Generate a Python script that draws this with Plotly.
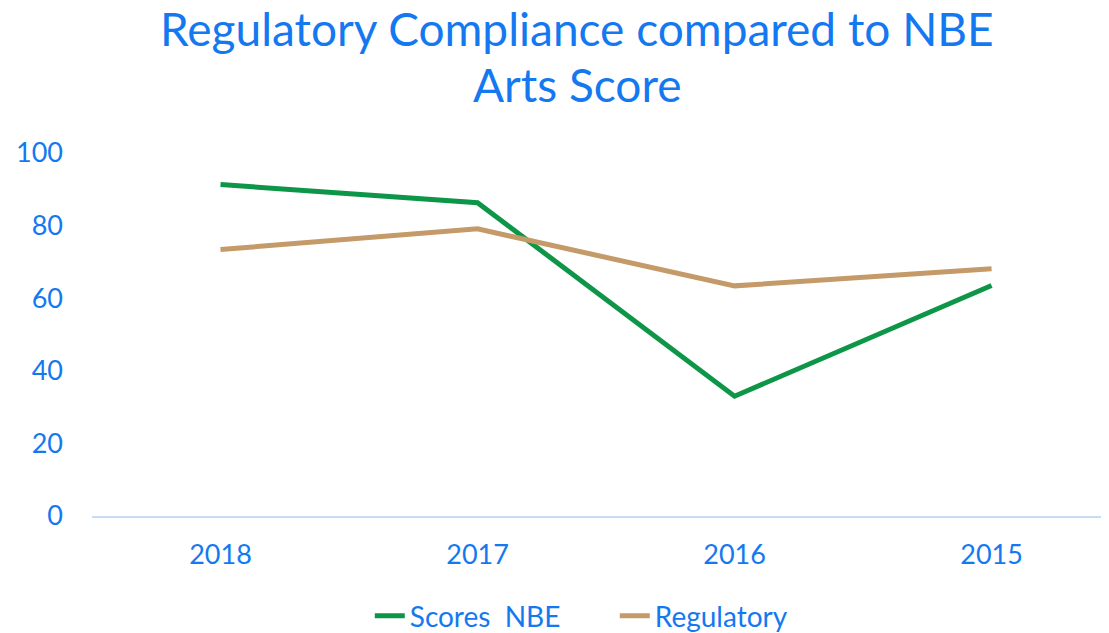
import plotly.graph_objects as go

years = ["2018", "2017", "2016", "2015"]
scores_nbe = [91.3, 86.3, 33.0, 63.5]
regulatory = [73.4, 79.1, 63.4, 68.1]
y_ticks = [0, 20, 40, 60, 80, 100]

blue = "#1479F0"
font_family = "Lato, 'Open Sans', sans-serif"

fig = go.Figure()
fig.add_trace(go.Scatter(x=years, y=scores_nbe, mode="lines", name="Scores  NBE",
                         line=dict(color="#0E9648", width=5)))
fig.add_trace(go.Scatter(x=years, y=regulatory, mode="lines", name="Regulatory",
                         line=dict(color="#C49A68", width=5)))

title_font = dict(size=46, color=blue, family=font_family)
fig.update_layout(
    width=1109, height=633, autosize=False,
    paper_bgcolor="white", plot_bgcolor="white",
    margin=dict(l=84, r=0, t=145, b=125, autoexpand=False),
    font=dict(family=font_family, color=blue, size=26),
    showlegend=True,
    legend=dict(orientation="h", x=0.271, xanchor="left",
                y=-0.2755, yanchor="middle", font=dict(size=28, color=blue),
                bgcolor="rgba(0,0,0,0)", entrywidth=200, entrywidthmode="pixels"),
    hovermode=False,
    annotations=[
        dict(text="Regulatory Compliance compared to NBE",
             xref="paper", yref="paper", x=0.4735, y=1.344,
             xanchor="center", yanchor="middle", showarrow=False, font=title_font),
        dict(text="Arts Score",
             xref="paper", yref="paper", x=0.4735, y=1.190,
             xanchor="center", yanchor="middle", showarrow=False, font=title_font),
    ],
)
fig.update_xaxes(type="category", range=[-0.5, 3.488], showgrid=False,
                 showline=True, linecolor="#C8DDF5", linewidth=2,
                 ticks="", ticklabelstandoff=14, zeroline=False,
                 tickfont=dict(size=27, color=blue))
fig.update_yaxes(range=[0, 100], tickvals=y_ticks, showgrid=False, zeroline=False,
                 showline=False, ticks="", ticklabelstandoff=28,
                 tickfont=dict(size=27, color=blue))

fig.write_html("out.html")
